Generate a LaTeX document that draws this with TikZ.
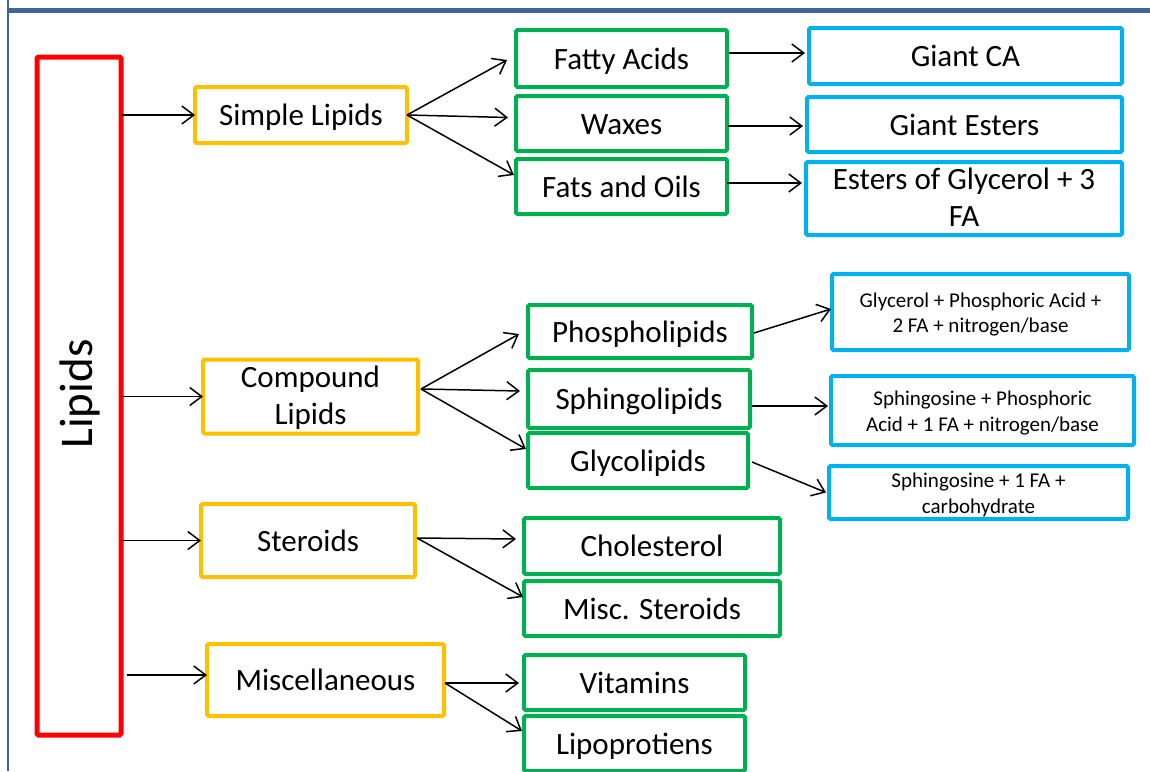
\documentclass[tikz,border=0pt]{standalone}
\usepackage{fontspec}
\setmainfont{Carlito}
\usetikzlibrary{arrows.meta,calc}
\definecolor{frameblue}{RGB}{65,101,152}
\definecolor{cred}{RGB}{255,0,0}
\definecolor{cyellow}{RGB}{255,192,0}
\definecolor{cgreen}{RGB}{0,176,80}
\definecolor{cblue}{RGB}{0,176,240}
\tikzset{
  box/.style={draw, rectangle, line width=4pt, rounded corners=1.5pt, outer sep=0pt, inner sep=0pt, align=center, fill=white, font=\fontsize{31}{37}\selectfont, text height=21pt, text depth=0pt},
  twoline/.style={text height=55pt, text depth=0pt},
  redbox/.style={box, draw=cred, line width=5pt},
  ybox/.style={box, draw=cyellow},
  gbox/.style={box, draw=cgreen},
  bbox/.style={box, draw=cblue},
  smallt/.style={font=\fontsize{21}{25.5}\selectfont, text height=41pt, text depth=0pt},
  arr/.style={-{Straight Barb[length=12pt,width=18pt,line width=1.5pt]}, line width=1.5pt, black},
}
\begin{document}
\begin{tikzpicture}[x=1pt,y=-1pt]
\useasboundingbox (0,0) rectangle (1150,771);
\clip (0,0) rectangle (1150,771);
% frame
\draw[frameblue, line width=5pt] (8,10) -- (1150,10);
\draw[frameblue, line width=2.5pt] (8,0) -- (8,771);
% level 0
\node[redbox, minimum width=84pt, minimum height=678pt] (lipids) at (79,396) {};
\node[rotate=90, font=\fontsize{47}{50}\selectfont] (lipidst) at (80,394) {Lipids};
% level 1
\node[ybox, minimum width=212pt, minimum height=56pt] (simple) at (301,115) {Simple Lipids};
\node[ybox, twoline, minimum width=215pt, minimum height=74pt] (compound) at (310.5,396.5) {Compound\\Lipids};
\node[ybox, minimum width=214pt, minimum height=73pt] (steroids) at (308,540.5) {Steroids};
\node[ybox, minimum width=237pt, minimum height=72pt] (misc) at (325.5,680) {Miscellaneous};
% level 2
\node[gbox, minimum width=211pt, minimum height=57pt] (fatty) at (621.5,58.5) {Fatty Acids};
\node[gbox, minimum width=211pt, minimum height=55pt] (waxes) at (621.5,123.5) {Waxes};
\node[gbox, minimum width=211pt, minimum height=55pt] (fats) at (621.5,186.5) {Fats and Oils};
\node[gbox, minimum width=224pt, minimum height=53pt] (phospho) at (640,331.5) {Phospholipids};
\node[gbox, minimum width=222pt, minimum height=58pt] (sphingo) at (639,399) {Sphingolipids};
\node[gbox, minimum width=220pt, minimum height=55pt] (glyco) at (638,460.5) {Glycolipids};
\node[gbox, minimum width=256pt, minimum height=56pt] (chol) at (652,546) {Cholesterol};
\node[gbox, minimum width=256pt, minimum height=55pt] (miscster) at (652,608.5) {Misc. Steroids};
\node[gbox, minimum width=221pt, minimum height=55pt] (vitamins) at (634.5,682.5) {Vitamins};
\node[gbox, minimum width=221pt, minimum height=55pt] (lipo) at (634.5,743.5) {Lipoprotiens};
% level 3
\node[bbox, minimum width=313pt, minimum height=56pt] (giantca) at (965.5,56) {Giant CA};
\node[bbox, minimum width=315pt, minimum height=55pt] (giantesters) at (964.5,124.5) {Giant Esters};
\node[bbox, twoline, minimum width=316pt, minimum height=73pt] (esters) at (964,198.5) {Esters of Glycerol + 3\\FA};
\node[bbox, smallt, minimum width=297pt, minimum height=76pt] (glycerol) at (980.5,312) {Glycerol + Phosphoric Acid +\\2 FA + nitrogen/base};
\node[bbox, smallt, minimum width=303pt, minimum height=69pt] (sphP) at (982.5,410.5) {Sphingosine + Phosphoric\\Acid + 1 FA + nitrogen/base};
\node[bbox, smallt, minimum width=299pt, minimum height=53pt] (sph1) at (978.5,492.5) {Sphingosine + 1 FA +\\carbohydrate};
% arrows from Lipids
\draw[arr] (lipids.east |- simple.west) -- (simple.west);
\draw[arr] (lipids.east |- compound.west) -- (compound.west);
\draw[arr] (lipids.east |- steroids.west) -- (steroids.west);
\draw[arr] ($(lipids.east |- misc.west)+(6,-5)$) -- ($(misc.west)+(0,-5)$);
% simple lipids
\draw[arr] (simple.east) -- ($(fatty.west)+(-9,1.5)$);
\draw[arr] (simple.east) -- ($(waxes.west)+(-8,-6)$);
\draw[arr] (simple.east) -- ($(fats.west)+(-2,-11.5)$);
\draw[arr] ($(fatty.east)+(2,-5.5)$) -- ($(giantca.west)+(-4,-3)$);
\draw[arr] ($(waxes.east)+(1,2.5)$) -- ($(giantesters.west)+(-4,1.5)$);
\draw[arr] ($(fats.east)+(0,-3.5)$) -- ($(esters.west)+(-4,-15.5)$);
% compound lipids
\coordinate (cstart) at ($(compound.east)+(3,-7.5)$);
\draw[arr] (cstart) -- ($(phospho.west)+(-9,2.5)$);
\draw[arr] (cstart) -- ($(sphingo.west)+(-8,-8)$);
\draw[arr] (cstart) -- ($(glyco.west)+(-2,-11.5)$);
\draw[arr] ($(phospho.east)+(2,1.5)$) -- ($(glycerol.west)+(-1,-3)$);
\draw[arr] ($(sphingo.east)+(2,7)$) -- ($(sphP.west)+(-3,-4.5)$);
\draw[arr] ($(glyco.east)+(4,1.5)$) -- ($(sph1.west)+(-3,0)$);
% steroids
\coordinate (sstart) at ($(steroids.east)+(2,-2.5)$);
\draw[arr] (sstart) -- ($(chol.west)+(-8,-7)$);
\draw[arr] (sstart) -- ($(miscster.west)+(-1,-11.5)$);
% miscellaneous
\coordinate (mstart) at ($(misc.east)+(1,3)$);
\draw[arr] (mstart) -- ($(vitamins.west)+(-5,0.5)$);
\draw[arr] (mstart) -- ($(lipo.west)+(-2,-12.5)$);
\end{tikzpicture}
\end{document}
